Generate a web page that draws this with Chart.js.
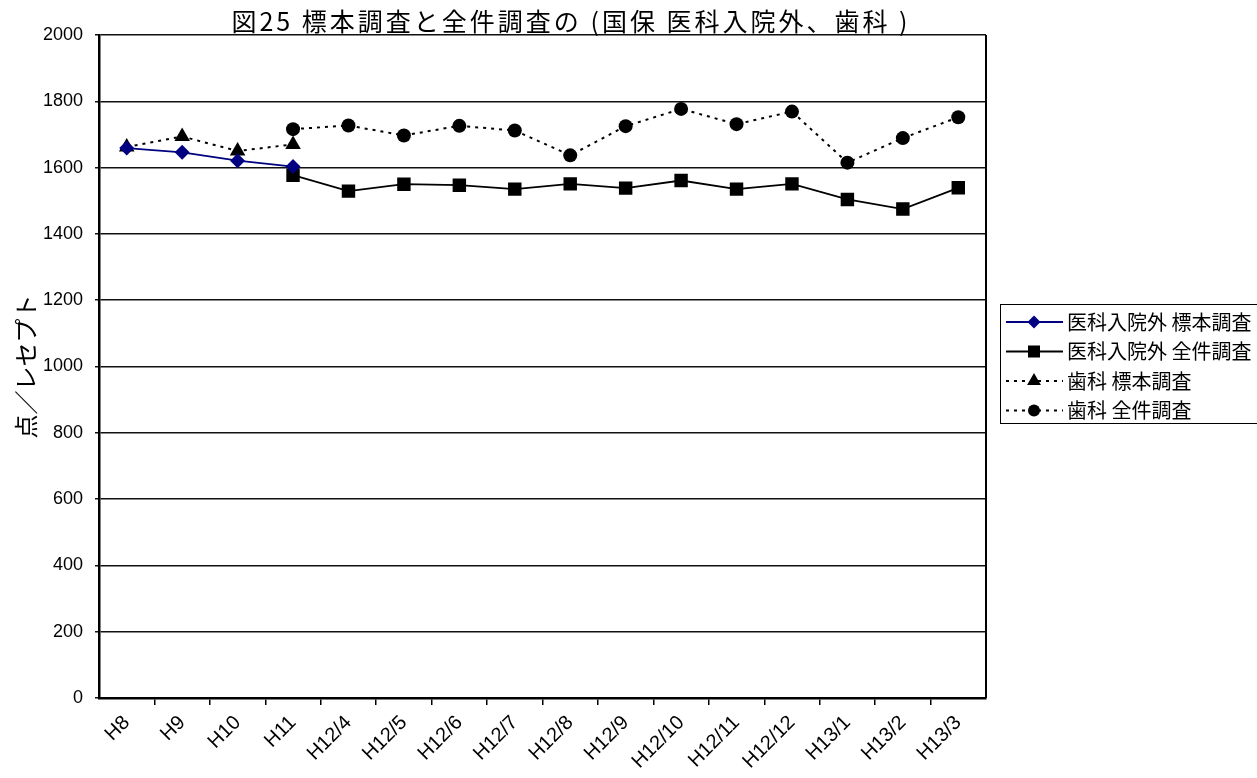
<!DOCTYPE html>
<html lang="ja">
<head>
<meta charset="utf-8">
<title>図25 標本調査と全件調査</title>
<script src="https://cdn.jsdelivr.net/npm/chart.js@4"></script>
<style>
  html, body { margin: 0; padding: 0; background: #fff; }
  #wrap { width: 1257px; height: 778px; position: relative; }
</style>
</head>
<body>
<div id="wrap"><canvas id="c" width="1257" height="778"></canvas></div>
<script>
// ---- data ----
const categories = ['H8', 'H9', 'H10', 'H11', 'H12/4', 'H12/5', 'H12/6', 'H12/7', 'H12/8',
                    'H12/9', 'H12/10', 'H12/11', 'H12/12', 'H13/1', 'H13/2', 'H13/3'];

// 医科入院外 標本調査
const medSample = [1659, 1646, 1621, 1603, null, null, null, null, null, null, null, null, null, null, null, null];
// 医科入院外 全件調査
const medFull   = [null, null, null, 1577, 1529, 1550, 1547, 1535, 1551, 1538, 1561, 1535, 1551, 1504, 1475, 1539];
// 歯科 標本調査
const denSample = [1662, 1694, 1650, 1670, null, null, null, null, null, null, null, null, null, null, null, null];
// 歯科 全件調査
const denFull   = [null, null, null, 1716, 1727, 1697, 1726, 1712, 1637, 1725, 1777, 1731, 1769, 1615, 1689, 1752];

const seriesLabels = ['医科入院外 標本調査', '医科入院外 全件調査', '歯科 標本調査', '歯科 全件調査'];
const chartTitle = '図25 標本調査と全件調査の (国保 医科入院外、歯科 )';
const yAxisTitle = '点／レセプト';
const yMin = 0, yMax = 2000, yStep = 200;

// ---- fonts ----
const LATIN = "'Liberation Sans', Arial, sans-serif";
const CJK = "'Noto Sans CJK JP', 'Noto Sans', sans-serif";

// marker drawing used by the legend (same geometry as Chart.js point styles)
function drawMarker(ctx, style, x, y, r) {
  ctx.beginPath();
  if (style === 'rectRot') {
    ctx.moveTo(x - r, y); ctx.lineTo(x, y - r); ctx.lineTo(x + r, y); ctx.lineTo(x, y + r);
  } else if (style === 'rect') {
    const s = Math.SQRT1_2 * r;
    ctx.rect(x - s, y - s, 2 * s, 2 * s);
  } else if (style === 'triangle') {
    for (let k = 0; k < 3; k++) {
      const a = k * 2 * Math.PI / 3;
      const px = x + Math.sin(a) * r, py = y - Math.cos(a) * r;
      if (k === 0) ctx.moveTo(px, py); else ctx.lineTo(px, py);
    }
  } else {
    ctx.arc(x, y, r, 0, Math.PI * 2);
  }
  ctx.closePath();
  ctx.fill();
}

// right frame edge, title and boxed legend
const decorations = {
  id: 'decorations',
  beforeDatasetsDraw(chart) {
    const { ctx, chartArea: a } = chart;
    ctx.save();
    ctx.strokeStyle = '#000';
    ctx.lineWidth = 2;
    ctx.beginPath();
    ctx.moveTo(a.right, a.top);
    ctx.lineTo(a.right, a.bottom);
    ctx.stroke();
    ctx.restore();
  },
  afterDraw(chart) {
    const { ctx, chartArea: a } = chart;
    ctx.save();
    // title
    ctx.fillStyle = '#000';
    ctx.font = '25px ' + CJK;
    ctx.textAlign = 'center';
    ctx.textBaseline = 'middle';
    if ('letterSpacing' in ctx) ctx.letterSpacing = '3px';
    ctx.fillText(chartTitle, a.left + 472, 21);
    if ('letterSpacing' in ctx) ctx.letterSpacing = '0px';

    // legend
    const lx = 1000, ly = 304;
    ctx.strokeStyle = '#000';
    ctx.lineWidth = 1;
    ctx.strokeRect(lx + 0.5, ly + 0.5, 300, 119);
    chart.data.datasets.forEach((ds, i) => {
      const y = ly + 18 + i * 29.5;
      ctx.strokeStyle = ds.borderColor;
      ctx.lineWidth = ds.borderWidth;
      ctx.setLineDash(ds.borderDash || []);
      ctx.beginPath();
      ctx.moveTo(lx + 6, y);
      ctx.lineTo(lx + 63, y);
      ctx.stroke();
      ctx.setLineDash([]);
      ctx.fillStyle = ds.pointBackgroundColor;
      drawMarker(ctx, ds.pointStyle, lx + 34, y, ds.pointRadius - 1);
      ctx.fillStyle = '#000';
      ctx.font = '20px ' + CJK;
      ctx.textAlign = 'left';
      ctx.textBaseline = 'middle';
      ctx.fillText(ds.label, lx + 67, y);
    });
    ctx.restore();
  }
};

function series(label, data, color, style, radius, dashed) {
  return {
    label, data,
    borderColor: color,
    backgroundColor: color,
    pointBackgroundColor: color,
    pointBorderColor: color,
    pointStyle: style,
    pointRadius: radius,
    pointHoverRadius: radius,
    pointBorderWidth: 0,
    borderWidth: dashed ? 2 : 1.8,
    borderDash: dashed ? [3, 5] : [],
    tension: 0,
    spanGaps: false,
    fill: false
  };
}

new Chart(document.getElementById('c'), {
  type: 'line',
  data: {
    labels: categories,
    datasets: [
      series(seriesLabels[0], medSample, '#000080', 'rectRot', 7.5, false),
      series(seriesLabels[1], medFull, '#000000', 'rect', 9.5, false),
      series(seriesLabels[2], denSample, '#000000', 'triangle', 9, true),
      series(seriesLabels[3], denFull, '#000000', 'circle', 7, true)
    ]
  },
  options: {
    responsive: false,
    animation: false,
    layout: { padding: { left: 0, top: 35, right: 271, bottom: 0 } },
    plugins: {
      legend: { display: false },
      title: { display: false },
      tooltip: { enabled: false }
    },
    scales: {
      x: {
        offset: true,
        afterFit(scale) { scale.height = 80; },
        border: { display: true, color: '#000', width: 2.5 },
        grid: {
          offset: true,
          drawOnChartArea: false,
          drawTicks: true,
          tickLength: 7,
          lineWidth: 1.5,
          color: (ctx) => (ctx.type !== 'tick' || ctx.index === 0) ? 'rgba(0,0,0,0)' : '#000'
        },
        ticks: {
          color: '#000',
          font: { family: LATIN, size: 20 },
          minRotation: 45,
          maxRotation: 45,
          autoSkip: false,
          padding: 6
        }
      },
      y: {
        min: yMin,
        max: yMax,
        afterFit(scale) { scale.width = 99; },
        border: { display: true, color: '#000', width: 2.5 },
        grid: { color: '#111', lineWidth: 1.5, drawTicks: true, tickLength: 4 },
        ticks: {
          stepSize: yStep,
          color: '#000',
          padding: 12,
          font: { family: LATIN, size: 18 },
          callback: (v) => String(v)
        },
        title: {
          display: true,
          text: yAxisTitle,
          color: '#000',
          font: { family: CJK, size: 24 },
          padding: { top: 11, bottom: 0 }
        }
      }
    }
  },
  plugins: [decorations]
});
</script>
</body>
</html>
